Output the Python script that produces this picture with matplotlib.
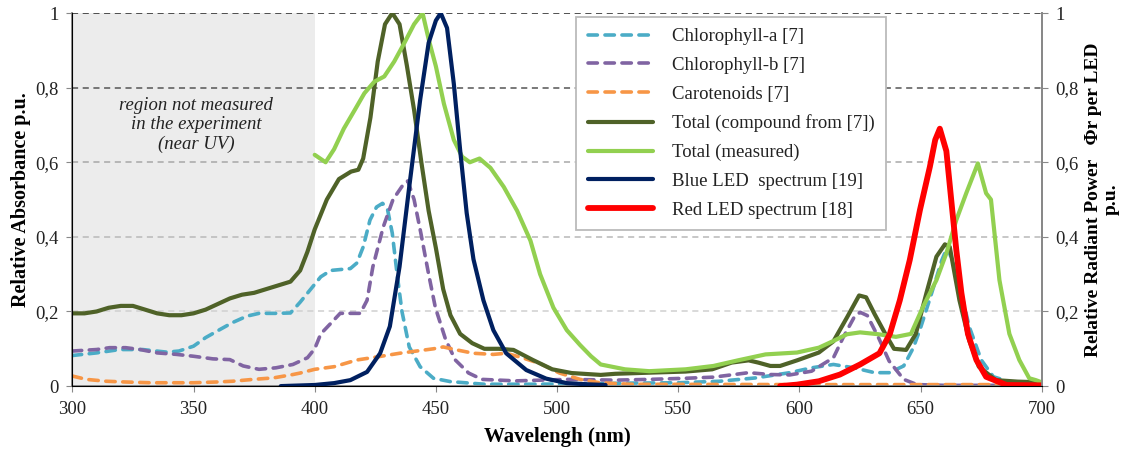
import matplotlib
matplotlib.use('Agg')
import matplotlib.pyplot as plt

plt.rcParams['font.family'] = ['Liberation Serif', 'DejaVu Serif']

# Chlorophyll-a [7]
wl_chla = [300, 310, 319.5, 329, 339, 344, 350, 355, 361, 366, 372, 377, 384, 390, 394, 398,
           402.5, 406.6, 414.7, 417.4, 420, 422.8, 425.5, 428, 430, 432, 434, 436, 439, 443.5,
           449, 456, 470, 490, 509, 530, 550, 567, 582, 596, 605, 614, 622.5, 631, 637, 643,
           647, 650, 654, 658.7, 661, 665, 670, 675, 680, 690, 700]
chla = [0.082, 0.089, 0.098, 0.098, 0.091, 0.094, 0.107, 0.13, 0.152, 0.17, 0.1875, 0.195,
        0.195, 0.196, 0.225, 0.257, 0.293, 0.31, 0.315, 0.33, 0.373, 0.445, 0.48, 0.49, 0.475,
        0.41, 0.30, 0.20, 0.105, 0.052, 0.021, 0.012, 0.005, 0.005, 0.006, 0.008, 0.009, 0.013,
        0.022, 0.036, 0.049, 0.058, 0.049, 0.036, 0.036, 0.054, 0.103, 0.157, 0.238, 0.337,
        0.373, 0.30, 0.16, 0.07, 0.025, 0.005, 0.0]

# Chlorophyll-b [7]
wl_chlb = [300, 310, 315.4, 322, 328, 335, 343, 350, 358, 365, 370.5, 377, 384, 391, 397, 400,
           402.5, 406.6, 410.5, 418.8, 421.6, 424, 428.3, 432.3, 436.5, 438.4, 441, 443.8, 447,
           449.8, 454, 458, 463.5, 469, 483, 504, 524, 538, 553, 564.5, 573, 579, 588, 596, 605,
           614, 618, 622.5, 625, 628, 632.6, 637, 643, 648.5, 660, 700]
chlb = [0.094, 0.098, 0.103, 0.103, 0.098, 0.089, 0.085, 0.08, 0.073, 0.071, 0.054, 0.045,
        0.049, 0.058, 0.076, 0.10, 0.14, 0.168, 0.195, 0.195, 0.23, 0.32, 0.427, 0.50, 0.54,
        0.55, 0.50, 0.41, 0.30, 0.21, 0.125, 0.07, 0.035, 0.018, 0.014, 0.018, 0.016, 0.018,
        0.021, 0.024, 0.031, 0.036, 0.031, 0.03, 0.04, 0.076, 0.13, 0.184, 0.198, 0.189, 0.13,
        0.067, 0.018, 0.004, 0.002, 0.002]

# Carotenoids [7]
wl_car = [300, 305.8, 314, 322, 332, 350, 359.5, 366, 374.6, 383, 391, 394, 400, 408, 417.4,
          425.5, 435, 442, 449, 453, 458.6, 465.5, 473.7, 479, 484.6, 492.8, 501, 509.5, 517.7,
          530, 600, 700]
car = [0.027, 0.018, 0.013, 0.011, 0.009, 0.009, 0.011, 0.013, 0.018, 0.022, 0.031, 0.035,
       0.045, 0.052, 0.07, 0.078, 0.088, 0.094, 0.10, 0.105, 0.097, 0.088, 0.085, 0.088, 0.078,
       0.061, 0.035, 0.018, 0.009, 0.005, 0.004, 0.004]

# Total (compound from [7])
wl_tot = [300, 305, 310, 315, 320, 325, 330, 335, 340, 345, 350, 355, 360, 365, 370, 375, 380,
          385, 390, 394, 397, 400, 405, 410, 415, 418, 420, 423, 426, 429, 432, 435, 438, 441,
          444, 447, 450, 453, 456, 460, 465, 470, 476, 482, 490, 498, 506, 518, 524, 538, 553,
          564, 572, 579, 583, 588, 592, 599, 608, 614, 619.6, 624.6, 627.5, 631, 635.5, 639,
          644, 648, 652.4, 656.5, 660, 662, 666, 670, 674, 681, 690, 700]
tot = [0.195, 0.195, 0.20, 0.21, 0.215, 0.215, 0.205, 0.195, 0.19, 0.19, 0.195, 0.205, 0.22,
       0.235, 0.245, 0.25, 0.26, 0.27, 0.28, 0.31, 0.36, 0.42, 0.50, 0.555, 0.575, 0.58, 0.61,
       0.72, 0.87, 0.97, 1.0, 0.97, 0.86, 0.74, 0.60, 0.47, 0.37, 0.26, 0.19, 0.14, 0.115,
       0.10, 0.10, 0.097, 0.07, 0.045, 0.035, 0.03, 0.033, 0.036, 0.039, 0.045, 0.063, 0.069,
       0.063, 0.054, 0.054, 0.069, 0.09, 0.12, 0.184, 0.243, 0.238, 0.193, 0.139, 0.10, 0.097,
       0.14, 0.25, 0.347, 0.38, 0.373, 0.23, 0.123, 0.052, 0.016, 0.012, 0.01]

# Total (measured)
wl_meas = [400, 404.5, 408, 412, 416.5, 420.5, 424.6, 428.7, 432.8, 437, 441, 444.5, 447, 450,
           453.3, 457.4, 460.8, 464, 468, 472.5, 478, 483.5, 489, 493, 498.5, 504, 509.5, 514,
           518, 528, 538, 553, 564.5, 574.6, 586, 599, 608, 614, 619.6, 625, 632.6, 639.8, 646,
           651, 656.5, 660.6, 664.7, 668.8, 673.6, 677, 679, 682.5, 686.6, 690.7, 694.8, 697.5,
           700]
meas = [0.62, 0.60, 0.635, 0.69, 0.74, 0.785, 0.816, 0.83, 0.87, 0.92, 0.97, 1.0, 0.93, 0.857,
        0.757, 0.66, 0.615, 0.60, 0.61, 0.585, 0.534, 0.47, 0.39, 0.30, 0.21, 0.15, 0.11, 0.08,
        0.058, 0.045, 0.04, 0.045, 0.054, 0.069, 0.085, 0.09, 0.103, 0.121, 0.139, 0.144,
        0.139, 0.132, 0.14, 0.213, 0.284, 0.356, 0.445, 0.517, 0.597, 0.517, 0.5, 0.284, 0.14,
        0.07, 0.021, 0.016, 0.01]

# Blue LED spectrum [19]
wl_blue = [386, 400, 408, 414.7, 421.6, 427, 431, 435, 439, 443.5, 447, 450, 452, 454.6, 457.4,
           460, 462.7, 465.5, 469.6, 473.7, 479, 487.3, 495.5, 504, 512, 520]
blue = [0, 0.003, 0.008, 0.016, 0.038, 0.088, 0.16, 0.32, 0.534, 0.767, 0.92, 0.98, 1.0, 0.96,
        0.81, 0.633, 0.464, 0.34, 0.23, 0.15, 0.088, 0.043, 0.02, 0.008, 0.005, 0.003]

# Red LED spectrum [18]
wl_red = [592, 599, 608, 616.7, 625, 633, 637.3, 641.4, 645.5, 649.7, 653.8, 656, 657.9, 660.6,
          662.6, 664.7, 666.8, 669.5, 673, 677, 685.4, 700]
red = [0, 0.004, 0.013, 0.031, 0.058, 0.088, 0.14, 0.23, 0.338, 0.472, 0.588, 0.66, 0.69, 0.63,
       0.5, 0.365, 0.25, 0.14, 0.07, 0.025, 0.003, 0.002]

yticks = [0, 0.2, 0.4, 0.6, 0.8, 1.0]
ytick_labels = ['0', '0,2', '0,4', '0,6', '0,8', '1']
grid_colors = ['#d0d0d0', '#b8b8b8', '#a8a8a8', '#555555', '#222222']

fig, ax = plt.subplots(figsize=(11.3, 4.5), dpi=100)
fig.subplots_adjust(left=0.064, right=0.922, bottom=0.142, top=0.971)

# zona no medida (UV cercano)
ax.axvspan(300, 400, color='#ececec', zorder=0, lw=0)
ax.text(351, 0.70, 'region not measured\nin the experiment\n(near UV)', ha='center',
        va='center', fontstyle='italic', fontsize=13.5, color='#222222', linespacing=1.2)

for yv, gc in zip(yticks[1:], grid_colors):
    ax.axhline(yv, color=gc, lw=1.1, ls=(0, (4, 3)), zorder=1)

dash_kw = dict(lw=2.6, ls=(0, (2.6, 2.1)), dash_capstyle='round', zorder=2)
ax.plot(wl_chla, chla, color='#4bacc6', label='Chlorophyll-a [7]', **dash_kw)
ax.plot(wl_chlb, chlb, color='#8064a2', label='Chlorophyll-b [7]', **dash_kw)
ax.plot(wl_car, car, color='#f79646', label='Carotenoids [7]', **dash_kw)
ax.plot(wl_tot, tot, color='#4f6228', lw=3.0, label='Total (compound from [7])', zorder=3,
        solid_capstyle='round')
ax.plot(wl_meas, meas, color='#92d050', lw=3.0, label='Total (measured)', zorder=3,
        solid_capstyle='round')
ax.plot(wl_blue, blue, color='#002060', lw=3.0, label='Blue LED  spectrum [19]', zorder=4,
        solid_capstyle='round')
ax.plot(wl_red, red, color='#ff0000', lw=4.2, label='Red LED spectrum [18]', zorder=5,
        solid_capstyle='round')

ax.set_xlim(300, 700)
ax.set_ylim(0, 1)
ax.set_xticks(range(300, 701, 50))
ax.set_yticks(yticks)
ax.set_yticklabels(ytick_labels)
ax.tick_params(labelsize=13.5, colors='#222222', length=4, color='#888888')
ax.tick_params(axis='x', pad=7)
ax.tick_params(axis='y', pad=6)

ax.spines['top'].set_visible(False)
for s in ['left', 'bottom', 'right']:
    ax.spines[s].set_color('#888888')
    ax.spines[s].set_linewidth(1.3)

ax.set_xlabel('Wavelengh (nm)', fontsize=15, fontweight='bold', labelpad=6)
ax.set_ylabel('Relative Absorbance p.u.', fontsize=14.5, fontweight='bold', labelpad=3)

# eje derecho
ax2 = ax.twinx()
ax2.set_ylim(0, 1)
ax2.set_yticks(yticks)
ax2.set_yticklabels(ytick_labels)
ax2.tick_params(labelsize=13.5, colors='#222222', length=4, color='#888888', pad=6)
ax2.spines['top'].set_visible(False)
ax2.spines['right'].set_color('#888888')
ax2.spines['right'].set_linewidth(1.3)
ax2.set_ylabel('Relative Radiant Power   \u03a6r per LED\np.u.', fontsize=14,
               fontweight='bold', labelpad=4, linespacing=1.05)

leg = ax.legend(loc='upper left', bbox_to_anchor=(0.52, 0.99), borderaxespad=0,
                fontsize=13.5, handlelength=3.5, handletextpad=1.0, borderpad=0.6,
                labelspacing=0.62, fancybox=False, framealpha=1, edgecolor='#bbbbbb')
leg.get_frame().set_linewidth(1.3)
leg.set_zorder(10)
for t in leg.get_texts():
    t.set_color('#222222')

fig.savefig('out.png', dpi=100)
